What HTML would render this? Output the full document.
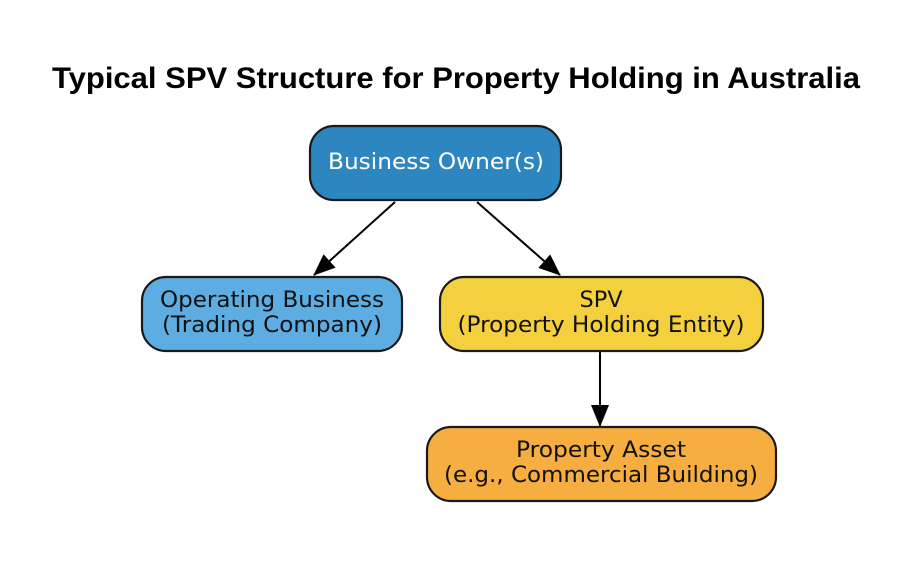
<!DOCTYPE html>
<html><head><style>body{margin:0;background:#fff}</style></head><body>
<svg width="921" height="577" xmlns="http://www.w3.org/2000/svg">
<rect width="921" height="577" fill="#fff"/>
<text x="456" y="88" text-anchor="middle" font-family="Liberation Sans, sans-serif" font-weight="bold" font-size="30" textLength="808" lengthAdjust="spacingAndGlyphs" fill="#000">Typical SPV Structure for Property Holding in Australia</text>
<defs><marker id="a" markerWidth="22" markerHeight="20" refX="21" refY="10" orient="auto" markerUnits="userSpaceOnUse"><path d="M0,1 L22,10 L0,19 z" fill="#000"/></marker></defs>
<g stroke="#000" stroke-width="2">
<line x1="395" y1="202" x2="314" y2="275" marker-end="url(#a)"/>
<line x1="477" y1="202" x2="560" y2="275" marker-end="url(#a)"/>
<line x1="600" y1="352" x2="600" y2="426" marker-end="url(#a)"/>
</g>
<g stroke="#1a1a1a" stroke-width="2.2">
<rect x="310" y="126" width="251" height="74" rx="24" fill="#2e86c1"/>
<rect x="142" y="277" width="260" height="74" rx="24" fill="#5dade2"/>
<rect x="440" y="277" width="323" height="74" rx="24" fill="#f4d03f"/>
<rect x="427" y="427" width="349" height="74" rx="24" fill="#f5ae3f"/>
</g>
<g font-family="DejaVu Sans, sans-serif" font-size="22" text-anchor="middle">
<text x="436" y="169" fill="#fff" textLength="216" lengthAdjust="spacingAndGlyphs">Business Owner(s)</text>
<text x="272" y="307" fill="#111" textLength="224" lengthAdjust="spacingAndGlyphs">Operating Business</text>
<text x="272" y="332" fill="#111" textLength="220" lengthAdjust="spacingAndGlyphs">(Trading Company)</text>
<text x="601" y="307" fill="#111" textLength="43" lengthAdjust="spacingAndGlyphs">SPV</text>
<text x="601" y="332" fill="#111" textLength="287" lengthAdjust="spacingAndGlyphs">(Property Holding Entity)</text>
<text x="601" y="457" fill="#111" textLength="170" lengthAdjust="spacingAndGlyphs">Property Asset</text>
<text x="601" y="482" fill="#111" textLength="314" lengthAdjust="spacingAndGlyphs">(e.g., Commercial Building)</text>
</g>
</svg>
</body></html>
